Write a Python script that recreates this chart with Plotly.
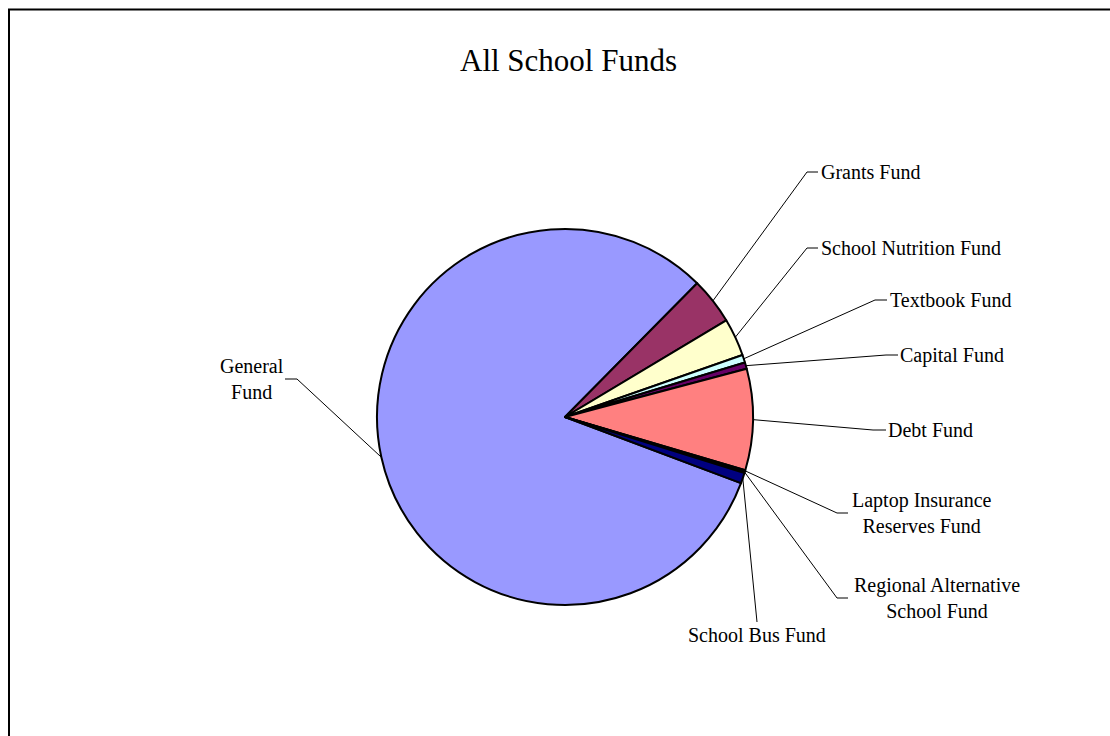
import math
import plotly.graph_objects as go

# ---- data ----
funds = ["General Fund", "Grants Fund", "School Nutrition Fund", "Textbook Fund",
         "Capital Fund", "Debt Fund", "Laptop Insurance Reserves Fund",
         "Regional Alternative School Fund", "School Bus Fund"]
shares = [81.7, 4.0, 3.25, 0.67, 0.55, 8.7, 0.1, 0.15, 0.9]
label_text = ["General<br>Fund", "Grants Fund", "School Nutrition Fund", "Textbook Fund",
              "Capital Fund", "Debt Fund", "Laptop Insurance<br>Reserves Fund",
              "Regional Alternative<br>School Fund", "School Bus Fund"]

# ---- styles / layout ----
colors = ["#9999FF", "#993366", "#FFFFCC", "#CCFFFF", "#660066",
          "#FF8080", "#0066CC", "#CCCCFF", "#000080"]
W, H = 1110, 736
CX, CY, R = 565, 417, 188
ROT = 110.6
FONT = "Liberation Serif, Times New Roman, serif"

# label placement: (elbow point, tick end, text x, text y, xanchor)
label_layout = [
    ((297, 379), (285, 379), 252, 379, "center"),
    ((807, 172), (818, 172), 819, 172, "left"),
    ((807, 248), (818, 248), 819, 248, "left"),
    ((875, 300), (887, 300), 888, 300, "left"),
    ((886, 355), (898, 355), 898, 355, "left"),
    ((873, 430), (886, 430), 886, 430, "left"),
    ((837, 513), (848, 513), 922, 513, "center"),
    ((837, 598), (848, 598), 937, 598, "center"),
    ((757, 622), (757, 622), 757, 635, "center"),
]


def px(x):
    return x / W


def py(y):
    return 1 - y / H


fig = go.Figure()
fig.add_trace(go.Pie(
    labels=funds, values=shares, sort=False, direction="clockwise",
    rotation=ROT, textinfo="none", hoverinfo="label+percent",
    marker=dict(colors=colors, line=dict(color="black", width=2)),
    domain=dict(x=[px(CX - R), px(CX + R)], y=[py(CY + R), py(CY - R)]),
    showlegend=False,
))

total = sum(shares)
cum = 0.0
shapes = []
annotations = []
for v, txt, lay in zip(shares, label_text, label_layout):
    mid = ROT + 360.0 * (cum + v / 2.0) / total
    cum += v
    th = math.radians(mid)
    ex, ey = CX + R * math.sin(th), CY - R * math.cos(th)
    (bx, by), (tx, ty), lx, ly, anc = lay
    path = f"M {px(ex)},{py(ey)} L {px(bx)},{py(by)} L {px(tx)},{py(ty)}"
    shapes.append(dict(type="path", xref="paper", yref="paper", path=path,
                       line=dict(color="black", width=1)))
    annotations.append(dict(x=px(lx), y=py(ly), xref="paper", yref="paper",
                            text=txt, showarrow=False, xanchor=anc, yanchor="middle",
                            align="center", font=dict(family=FONT, size=20, color="black")))

# chart frame
shapes.append(dict(type="rect", xref="paper", yref="paper",
                   x0=px(9), y0=-0.05, x1=1.05, y1=py(9.5),
                   line=dict(color="black", width=2)))

annotations.append(dict(x=px(568), y=py(60), xref="paper", yref="paper",
                        text="All School Funds", showarrow=False,
                        xanchor="center", yanchor="middle",
                        font=dict(family=FONT, size=31, color="black")))

fig.update_layout(
    width=W, height=H, margin=dict(l=0, r=0, t=0, b=0),
    paper_bgcolor="white", plot_bgcolor="white",
    shapes=shapes, annotations=annotations,
)

fig.write_html("out.html")
